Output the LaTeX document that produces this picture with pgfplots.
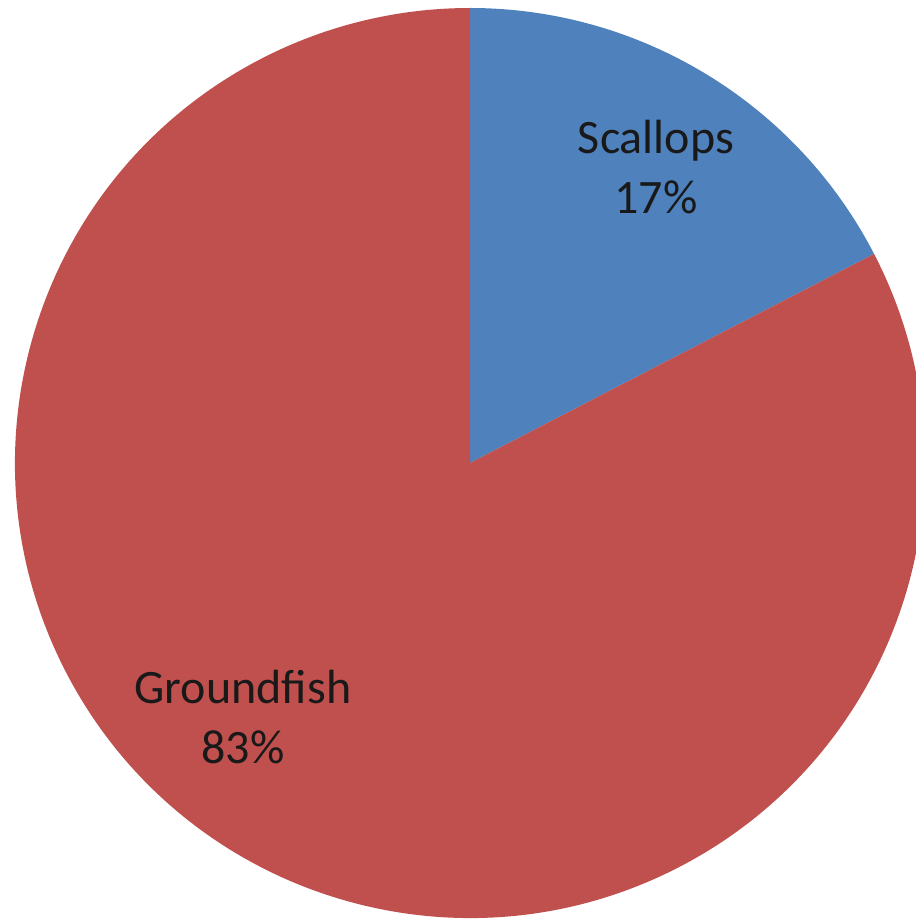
\documentclass[border=0pt]{standalone}
\usepackage{pgfplots}
\usepackage{pgfplotstable}
\usepackage{fontspec}
\setmainfont{Carlito}
\pgfplotsset{compat=1.18}
\definecolor{pieblue}{HTML}{4F81BD}
\definecolor{piered}{HTML}{C0504D}
\pgfplotstableread{
label value
Scallops 17.4
Groundfish 82.6
}\piedata
\begin{document}
\begin{tikzpicture}
\pgfplotstablegetelem{0}{value}\of\piedata \let\va\pgfplotsretval
\pgfplotstablegetelem{1}{value}\of\piedata \let\vb\pgfplotsretval
\pgfmathsetmacro{\angA}{90-\va*3.6}
\pgfmathsetmacro{\angB}{\angA-\vb*3.6}
\begin{axis}[
  scale only axis, width=229pt, height=230.5pt,
  xmin=0, xmax=916, ymin=0, ymax=922,
  hide axis, clip=true,
]
\addplot[draw=none, forget plot] coordinates {(0,0) (916,922)};
\fill[pieblue] (axis cs:470,459) -- ++(90:113.75pt) arc[start angle=90, end angle=\angA, radius=113.75pt] -- cycle;
\fill[piered] (axis cs:470,459) -- ++(\angA:113.75pt) arc[start angle=\angA, end angle=\angB, radius=113.75pt] -- cycle;
\node[align=center, font=\fontsize{12}{15}\selectfont, text=black!90] at (axis cs:656,755) {Scallops\\17\%};
\node[align=center, font=\fontsize{12}{15}\selectfont, text=black!90] at (axis cs:243,205) {Groundfish\\83\%};
\end{axis}
\end{tikzpicture}
\end{document}
